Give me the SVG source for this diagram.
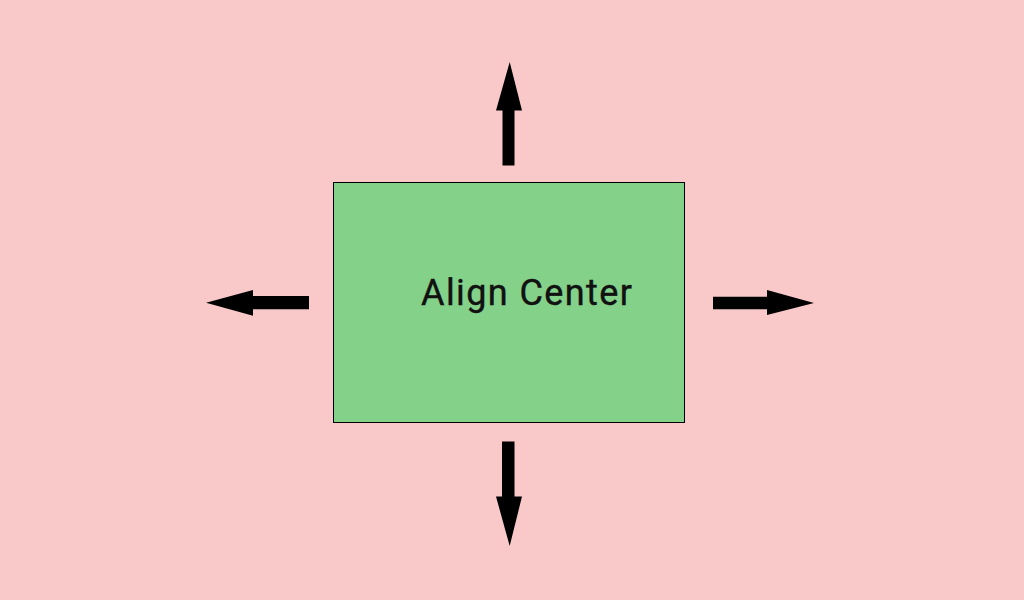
<svg xmlns="http://www.w3.org/2000/svg" width="1024" height="600" viewBox="0 0 1024 600">
<style>
.bg{fill:#F9C8C8}
.box{fill:#84D18A;stroke:#000;stroke-width:1}
.lbl{font-family:Roboto,"Liberation Sans",sans-serif;font-size:36px;fill:#111;stroke:#111;stroke-width:0.4}
.arr{fill:#000}
</style>
<rect class="bg" x="0" y="0" width="1024" height="600"/>
<g id="node-box">
<rect class="box" x="333.5" y="182.5" width="351" height="240"/>
<text class="lbl" x="421" y="305" textLength="211" lengthAdjust="spacing">Align Center</text>
</g>
<g id="connectors">
<polygon class="arr" points="502.5,165.5 514.5,165.5 514.5,110.5 522,110.5 509.7,62 496,110.5 502.5,110.5"/>
<polygon class="arr" points="502,441.5 514.5,441.5 514.5,496.5 522,496.5 509.7,546 496,496.5 502,496.5"/>
<polygon class="arr" points="309,296 309,309.3 253,309.3 253,315.7 206,302.7 253,290 253,296"/>
<polygon class="arr" points="713,296.7 713,309.3 767,309.3 767,315 814,303 767,290 767,296.7"/>
</g>
</svg>
